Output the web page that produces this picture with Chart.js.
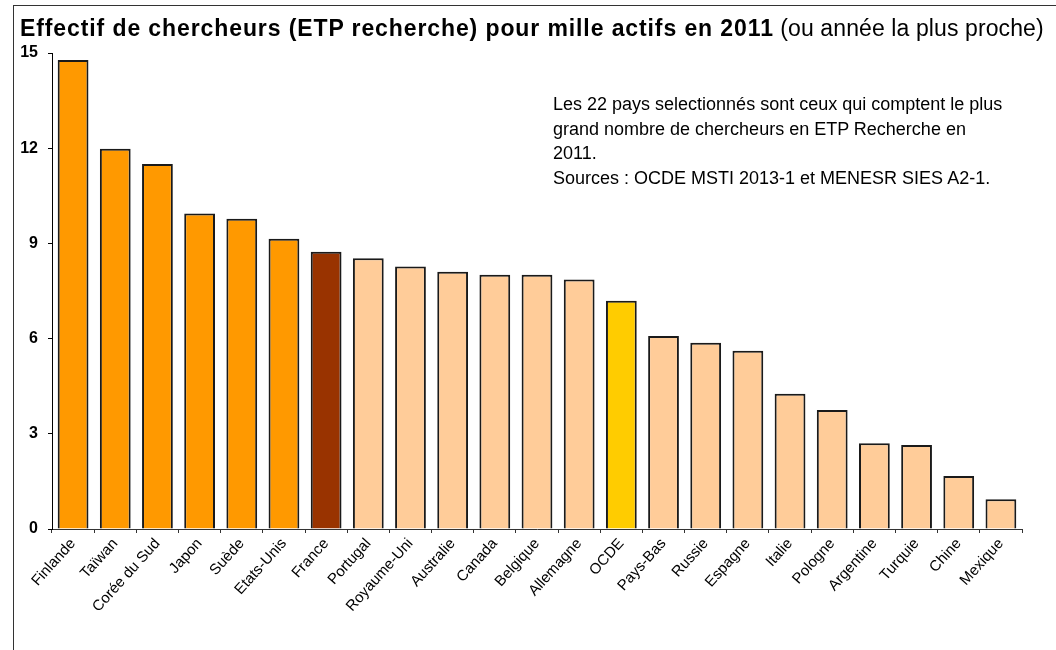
<!DOCTYPE html>
<html lang="fr">
<head>
  <meta charset="UTF-8" />
  <title>Effectif de chercheurs pour mille actifs en 2011</title>
  <script src="https://cdn.jsdelivr.net/npm/chart.js"></script>
  <style>
    body {
      margin: 0;
      background: #fff;
      font-family: 'Liberation Sans', Arial, sans-serif;
    }
    .wrap {
      position: relative;
      width: 1056px;
      height: 650px;
      overflow: hidden;
    }
    .frame {
      position: absolute;
      left: 13px;
      top: 5px;
      width: 1100px;
      height: 700px;
      border-left: 1px solid #333;
      border-top: 1px solid #333;
    }
    .title {
      position: absolute;
      left: 20px;
      top: 14px;
      font-size: 23px;
      line-height: 28px;
      color: #000;
      white-space: nowrap;
    }
    .title b { font-weight: bold; letter-spacing: 0.9px; }
    .title span { letter-spacing: 0.1px; }
    .note {
      position: absolute;
      left: 553px;
      top: 92px;
      font-size: 18px;
      line-height: 24.5px;
      color: #000;
      white-space: nowrap;
    }
    canvas {
      position: absolute;
      left: 0;
      top: 0;
    }
  </style>
</head>
<body>
  <div class="wrap">
    <div class="frame"></div>
    <canvas id="chart" width="1056" height="650"></canvas>
    <div class="title"><b>Effectif de chercheurs (ETP recherche) pour mille actifs en 2011</b><span> (ou année la plus proche)</span></div>
    <div class="note">
      Les 22 pays selectionnés sont ceux qui comptent le plus<br>
      grand nombre de chercheurs en ETP Recherche en<br>
      2011.<br>
      Sources : OCDE MSTI 2013-1 et MENESR SIES A2-1.
    </div>
  </div>

  <script>
    // donnees
    const pays = ['Finlande', 'Taïwan', 'Corée du Sud', 'Japon', 'Suède', 'Etats-Unis', 'France',
      'Portugal', 'Royaume-Uni', 'Australie', 'Canada', 'Belgique', 'Allemagne', 'OCDE',
      'Pays-Bas', 'Russie', 'Espagne', 'Italie', 'Pologne', 'Argentine', 'Turquie', 'Chine', 'Mexique'];
    const chercheurs = [14.78, 11.98, 11.5, 9.94, 9.78, 9.15, 8.74,
      8.53, 8.27, 8.11, 8.01, 8.01, 7.86, 7.19,
      6.08, 5.87, 5.62, 4.26, 3.75, 2.70, 2.65, 1.67, 0.94];
    const yTicks = [0, 3, 6, 9, 12, 15];

    const colors = pays.map(function (p, i) {
      if (p === 'France') return '#993300';
      if (p === 'OCDE') return '#FFCC00';
      return i < 6 ? '#FF9900' : '#FFCC99';
    });

    const ctx = document.getElementById('chart').getContext('2d');
    new Chart(ctx, {
      type: 'bar',
      data: {
        labels: pays,
        datasets: [{
          data: chercheurs,
          backgroundColor: colors,
          borderColor: '#1a1a1a',
          borderWidth: 2,
          barPercentage: 0.73,
          categoryPercentage: 1
        }]
      },
      options: {
        responsive: false,
        animation: false,
        layout: { padding: { left: 0, top: 53, right: 34, bottom: 0 } },
        plugins: {
          legend: { display: false },
          tooltip: { enabled: false }
        },
        scales: {
          x: {
            offset: true,
            afterFit: function (scale) { scale.height = 121; },
            grid: {
              offset: true,
              drawOnChartArea: false,
              drawTicks: true,
              tickLength: 4,
              color: '#333'
            },
            border: { color: '#333', width: 1 },
            ticks: {
              minRotation: 48,
              maxRotation: 48,
              autoSkip: false,
              padding: 2,
              color: '#000',
              font: { family: "'Liberation Sans', Arial, sans-serif", size: 15 }
            }
          },
          y: {
            min: 0,
            max: 15,
            afterFit: function (scale) { scale.width = 52; },
            afterBuildTicks: function (scale) {
              scale.ticks = yTicks.map(function (v) { return { value: v }; });
            },
            grid: {
              drawOnChartArea: false,
              drawTicks: true,
              tickLength: 4,
              color: '#000'
            },
            border: { color: '#000', width: 1 },
            ticks: {
              padding: 10,
              color: '#000',
              font: { family: "'Liberation Sans', Arial, sans-serif", size: 16, weight: 'bold' }
            }
          }
        }
      }
    });
  </script>
</body>
</html>
